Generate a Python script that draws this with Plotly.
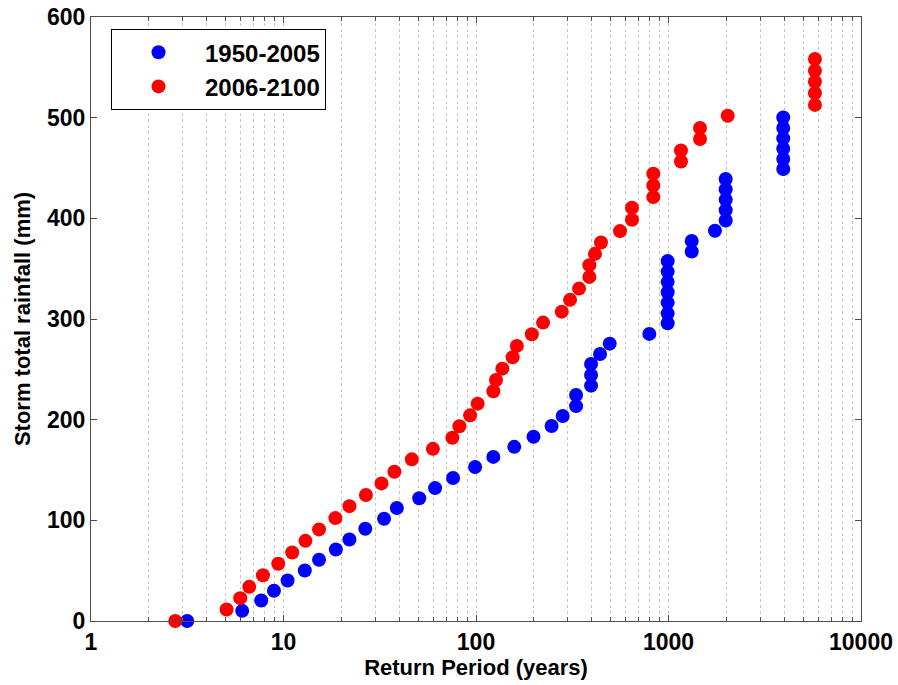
import plotly.graph_objects as go

# Return period (years) and storm total rainfall (mm), 1950-2005
rp_hist = [3.16, 6.1, 7.66, 8.92, 10.5, 12.9, 15.3, 18.7, 22.0, 26.6,
           33.3, 38.8, 50.7, 61.3, 76.0, 98.9, 123, 158, 199, 247,
           282, 331, 331, 396, 396, 396, 441, 495, 795,
           990, 990, 990, 990, 990, 990, 990,
           1320, 1320, 1743,
           1982, 1982, 1982, 1982, 1982,
           3945, 3945, 3945, 3945, 3945, 3945]
rain_hist = [0, 10.1, 20.4, 30, 40.3, 50.2, 60.8, 71.1, 81, 91.6,
             101.5, 112.2, 122, 132, 142, 153, 163, 173, 183, 193.7,
             203.6, 213.5, 224.5, 233.8, 244.4, 255.4, 265.3, 275.5, 285.2,
             295.8, 305.6, 316.3, 326.6, 336.9, 347.1, 357.5,
             367, 377.6, 387.6,
             397.8, 408.2, 418.4, 428.7, 439,
             449, 458.9, 469.1, 479.4, 489.7, 500.2]

# Return period (years) and storm total rainfall (mm), 2006-2100
rp_future = [2.74, 5.06, 5.96, 6.64, 7.82, 9.39, 11.1, 13.0, 15.3, 18.6,
             22.0, 26.8, 32.3, 37.7, 46.4, 59.7, 75.4, 82, 93.2, 102,
             123, 127, 137, 155, 163, 195, 223, 279, 308,
             343, 388, 388, 415, 446, 560, 646, 646,
             834, 834, 834, 1161, 1161, 1458, 1458, 2030,
             5765, 5765, 5765, 5765, 5765]
rain_future = [0, 11.4, 22.7, 33.9, 45.5, 56.8, 68.1, 79.6, 91, 102.2,
               114.1, 125.1, 136.7, 148.3, 160.6, 171, 182, 193.4, 204.3, 215.9,
               228.2, 239.4, 250.7, 262, 273.3, 284.9, 296.4, 307.3, 319,
               330.2, 341.8, 353.5, 364.7, 376, 387.3, 398.6, 410.5,
               421.1, 432.6, 444.3, 456.5, 467.5, 478.8, 489.7, 501.9,
               512.7, 524.4, 535.7, 546.6, 558.3]

series_names = ["1950-2005", "2006-2100"]
x_tickvals = [1, 10, 100, 1000, 10000]
x_ticktext = ["1", "10", "100", "1000", "10000"]
y_tickvals = [0, 100, 200, 300, 400, 500, 600]

FONT = "Liberation Sans, Arial, sans-serif"
AXIS_COLOR = "#4d4d4d"
GRID_COLOR = "#c6c6c6"
TICK_FONT = dict(family=FONT, size=23, color="black", weight="bold")
TITLE_FONT = dict(family=FONT, size=22, color="black", weight="bold")

fig = go.Figure()
for name, xs, ys, color in [(series_names[0], rp_hist, rain_hist, "#0000ff"),
                            (series_names[1], rp_future, rain_future, "#ff0000")]:
    fig.add_trace(go.Scatter(
        x=xs, y=ys, mode="markers", name=name, legendgroup=name,
        marker=dict(color=color, size=14, line=dict(width=0)),
        cliponaxis=False,
    ))

fig.update_layout(
    width=898, height=685,
    margin=dict(l=91, r=37, t=17, b=64),
    paper_bgcolor="white", plot_bgcolor="white",
    font=dict(family=FONT, size=17, color="black"),
    showlegend=True,
    legend=dict(
        x=0.026, y=0.98, xanchor="left", yanchor="top",
        bgcolor="white", bordercolor="black", borderwidth=1,
        font=dict(family=FONT, size=24, color="black", weight="bold"),
        itemwidth=83, tracegroupgap=3,
        traceorder="normal",
    ),
)

fig.update_xaxes(
    type="log", range=[0, 4], automargin=False,
    tickvals=x_tickvals, ticktext=x_ticktext,
    tickfont=TICK_FONT,
    ticks="inside", ticklen=6, tickcolor=AXIS_COLOR,
    showline=True, linecolor=AXIS_COLOR, linewidth=1, mirror="allticks",
    showgrid=True, gridcolor=GRID_COLOR, griddash="dot", gridwidth=1,
    minor=dict(dtick="D1", ticks="inside", ticklen=4, tickcolor=AXIS_COLOR,
               showgrid=True, gridcolor=GRID_COLOR, griddash="dot", gridwidth=1),
    zeroline=False,
    title=dict(text="Return Period (years)", standoff=4, font=TITLE_FONT),
)

fig.update_yaxes(
    range=[0, 600], tickvals=y_tickvals, automargin=False,
    tickfont=TICK_FONT,
    ticks="inside", ticklen=6, tickcolor=AXIS_COLOR,
    showline=True, linecolor=AXIS_COLOR, linewidth=1, mirror="allticks",
    showgrid=False, zeroline=False,
    title=dict(text="Storm total rainfall (mm)", standoff=10, font=TITLE_FONT),
)

fig.write_html("out.html")
